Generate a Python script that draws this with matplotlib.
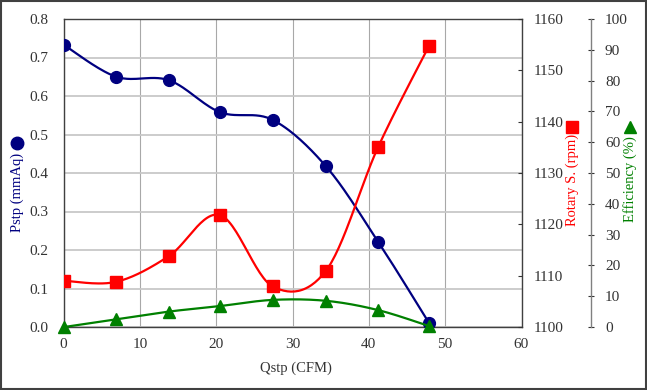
import numpy as np
import matplotlib.pyplot as plt
from matplotlib.lines import Line2D
from matplotlib.patches import Rectangle

plt.rcParams['font.family'] = ['Liberation Serif', 'DejaVu Serif']

qstp = [0.1, 6.9, 13.8, 20.5, 27.4, 34.4, 41.2, 47.9]
pstp = [0.732, 0.650, 0.641, 0.558, 0.538, 0.417, 0.222, 0.010]
rpm = [1109.0, 1108.8, 1113.8, 1121.8, 1107.9, 1111.0, 1135.0, 1154.8]
eff = [0.0, 2.5, 5.0, 6.8, 8.8, 8.5, 5.5, 0.3]

NAVY = '#000080'
RED = '#ff0000'
GREEN = '#008000'


def smooth(x, y, xspan, yspan, n=30):
    # Excel style smoothed line: bezier with catmull-rom control points,
    # computed in normalised (screen-like) space
    px = np.asarray(x) / xspan
    py = np.asarray(y) / yspan
    pts = np.column_stack([px, py])
    out = []
    for i in range(len(pts) - 1):
        p0 = pts[max(i - 1, 0)]
        p1 = pts[i]
        p2 = pts[i + 1]
        p3 = pts[min(i + 2, len(pts) - 1)]
        c1 = p1 + (p2 - p0) / 6
        c2 = p2 - (p3 - p1) / 6
        t = np.linspace(0, 1, n)[:, None]
        seg = ((1 - t) ** 3) * p1 + 3 * ((1 - t) ** 2) * t * c1 + 3 * (1 - t) * t ** 2 * c2 + t ** 3 * p2
        out.append(seg if i == 0 else seg[1:])
    out = np.vstack(out)
    return out[:, 0] * xspan, out[:, 1] * yspan


fig = plt.figure(figsize=(6.47, 3.90), dpi=100)
ax = fig.add_axes([63.5 / 647, 63 / 390, 458 / 647, 308 / 390])

ax.set_xlim(0, 60)
ax.set_ylim(0, 0.8)
ax.set_xticks(range(0, 61, 10))
ax.set_yticks(np.arange(0, 0.81, 0.1))
ax.set_yticklabels(['%.1f' % v for v in np.arange(0, 0.81, 0.1)])
ax.xaxis.grid(True, color='#a8a8a8', lw=0.8)
ax.yaxis.grid(True, color='#c8c8c8', lw=1.3)
ax.set_axisbelow(True)
ax.tick_params(axis='both', length=0, labelsize=11, colors='#333333')
ax.tick_params(axis='y', pad=11)
ax.tick_params(axis='x', pad=8)
for s in ax.spines.values():
    s.set_color('#404040')
    s.set_linewidth(1.0)

sx, sy = smooth(qstp, pstp, 60, 0.8)
ax.plot(sx, sy, color=NAVY, lw=1.6, zorder=3)
ax.plot(qstp, pstp, 'o', color=NAVY, ms=8.5, zorder=4)

ax2 = ax.twinx()
ax2.set_ylim(1100, 1160)
ax2.set_yticks(range(1100, 1161, 10))
ax2.tick_params(axis='y', direction='in', length=3, pad=9, labelsize=11, colors='#333333')
for s in ax2.spines.values():
    s.set_visible(False)
sx, sy = smooth(qstp, rpm, 60, 60)
ax2.plot(sx, sy, color=RED, lw=1.6, zorder=3)
ax2.plot(qstp, rpm, 's', color=RED, ms=8, zorder=4)

ax3 = ax.twinx()
ax3.set_ylim(0, 100)
ax3.set_yticks(range(0, 101, 10))
for s in ['top', 'bottom', 'left']:
    ax3.spines[s].set_visible(False)
ax3.spines['right'].set_position(('axes', (591 - 63.5) / 458))
ax3.spines['right'].set_color('#808080')
ax3.spines['right'].set_linewidth(1.0)
ax3.tick_params(axis='y', direction='inout', length=4, pad=8, labelsize=11, colors='#333333')
sx, sy = smooth(qstp, eff, 60, 100)
ax3.plot(sx, sy, color=GREEN, lw=1.6, zorder=3, clip_on=False)
ax3.plot(qstp, eff, '^', color=GREEN, ms=8, zorder=4, clip_on=False)

fig.text(296 / 647, 1 - 368 / 390, 'Qstp (CFM)', ha='center', va='center', fontsize=10.5, color='#333333')

fig.text(17 / 647, 1 - 192 / 390, 'Pstp (mmAq)', rotation=90, ha='center', va='center', fontsize=10.5, color=NAVY)
fig.add_artist(Line2D([17 / 647], [1 - 143 / 390], marker='o', color=NAVY, ms=9, transform=fig.transFigure))

fig.text(572 / 647, 1 - 180 / 390, 'Rotary S. (rpm)', rotation=90, ha='center', va='center', fontsize=10.5, color=RED)
fig.add_artist(Line2D([572 / 647], [1 - 127 / 390], marker='s', color=RED, ms=8.5, transform=fig.transFigure))

fig.text(630 / 647, 1 - 179 / 390, 'Efficiency (%)', rotation=90, ha='center', va='center', fontsize=10.5, color=GREEN)
fig.add_artist(Line2D([630 / 647], [1 - 127 / 390], marker='^', color=GREEN, ms=9, transform=fig.transFigure))

fig.patches.append(Rectangle((0.001, 0.002), 0.997, 0.996, transform=fig.transFigure,
                             fill=False, edgecolor='#404040', lw=1.5))

fig.savefig('out.png', dpi=100)
